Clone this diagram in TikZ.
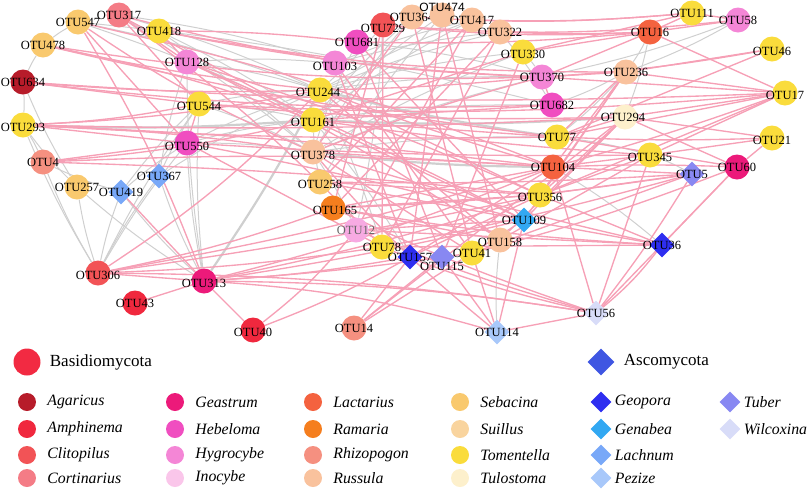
\documentclass[tikz,border=0pt]{standalone}
\usepackage{fontspec}
\setmainfont{Liberation Serif}
\newfontfamily\sanslab{Liberation Sans}
\usetikzlibrary{positioning, shapes.geometric}
\pgfdeclarelayer{bg}
\pgfsetlayers{bg,main}

% genus colours %
\definecolor{Agaricus}{HTML}{B71C2A}
\definecolor{Amphinema}{HTML}{F0283E}
\definecolor{Clitopilus}{HTML}{F25356}
\definecolor{Cortinarius}{HTML}{F47C86}
\definecolor{Geastrum}{HTML}{EC1A7A}
\definecolor{Hebeloma}{HTML}{F04EC0}
\definecolor{Hygrocybe}{HTML}{F486D6}
\definecolor{Inocybe}{HTML}{FAC6EA}
\definecolor{Lactarius}{HTML}{F4623F}
\definecolor{Ramaria}{HTML}{F57E1E}
\definecolor{Rhizopogon}{HTML}{F59080}
\definecolor{Russula}{HTML}{F9C29D}
\definecolor{Sebacina}{HTML}{F9C96E}
\definecolor{Suillus}{HTML}{F9D49E}
\definecolor{Tomentella}{HTML}{FADC3C}
\definecolor{Tulostoma}{HTML}{FDF0CC}
\definecolor{Geopora}{HTML}{2E2EF0}
\definecolor{Genabea}{HTML}{32A8F2}
\definecolor{Lachnum}{HTML}{78A8F8}
\definecolor{Pezize}{HTML}{A8C8FA}
\definecolor{Tuber}{HTML}{8888F2}
\definecolor{Wilcoxina}{HTML}{D8DCF8}
\definecolor{basidio}{HTML}{F22A42}
\definecolor{asco}{HTML}{3F56E2}
\definecolor{edgepink}{HTML}{F6A0B6}
\definecolor{edgegray}{HTML}{CFCFCF}

\tikzset{
	otu/.style={circle, minimum size=25pt, inner sep=0pt, draw=none},
	asc/.style={diamond, minimum size=25pt, inner sep=0pt, draw=none},
	lbl/.style={font=\fontsize{12.5}{12.5}\selectfont, inner sep=0pt},
	pk/.style={draw=edgepink, line width=1.35pt},
	gr/.style={draw=edgegray, line width=1pt},
	grt/.style={draw=edgegray, line width=2.2pt},
	leg/.style={circle, minimum size=18pt, inner sep=0pt},
	legd/.style={diamond, minimum size=21pt, inner sep=0pt},
	legtxt/.style={font=\itshape\fontsize{15.8}{16}\selectfont, inner sep=0pt, anchor=west},
}

\begin{document}
\begin{tikzpicture}[x=1pt, y=-1pt]
	\useasboundingbox (0,0) rectangle (809,491);

	% nodes - left part %
	\node[otu, fill=Sebacina, label={[lbl]center:OTU547}] (o547) at (78,22) {};
	\node[otu, fill=Cortinarius, label={[lbl]center:OTU317}] (o317) at (119,15) {};
	\node[otu, fill=Tomentella, label={[lbl]center:OTU418}] (o418) at (159,31) {};
	\node[otu, fill=Sebacina, label={[lbl]center:OTU478}] (o478) at (43,45) {};
	\node[otu, fill=Hygrocybe, label={[lbl]center:OTU128}] (o128) at (187,62) {};
	\node[otu, fill=Agaricus, label={[lbl]center:OTU634}] (o634) at (23,82) {};
	\node[otu, fill=Tomentella, label={[lbl, yshift=-2pt]center:OTU544}] (o544) at (199,104) {};
	\node[otu, fill=Tomentella, label={[lbl, yshift=-2pt]center:OTU293}] (o293) at (23,125) {};
	\node[otu, fill=Hebeloma, label={[lbl, yshift=-3pt]center:OTU550}] (o550) at (187,143) {};
	\node[otu, fill=Rhizopogon, label={[lbl]center:OTU4}] (o4) at (43,162) {};
	\node[otu, fill=Sebacina, label={[lbl]center:OTU257}] (o257) at (77,187) {};
	\node[asc, fill=Lachnum, label={[lbl]center:OTU419}] (o419) at (121,192) {};
	\node[asc, fill=Lachnum, label={[lbl]center:OTU367}] (o367) at (159,176) {};
	\node[otu, fill=Clitopilus, label={[lbl, yshift=-2pt]center:OTU306}] (o306) at (98,273) {};
	\node[otu, fill=Geastrum, label={[lbl, yshift=-2pt]center:OTU313}] (o313) at (204,281) {};
	\node[otu, fill=Amphinema, label={[lbl]center:OTU43}] (o43) at (135,303) {};
	\node[otu, fill=Amphinema, label={[lbl, yshift=-2pt]center:OTU40}] (o40) at (253,330) {};

	% nodes - top and middle %
	\node[otu, fill=Clitopilus, label={[lbl, yshift=-3pt]center:OTU729}] (o729) at (383,25) {};
	\node[otu, fill=Russula, label={[lbl]center:OTU364}] (o364) at (412,17) {};
	\node[otu, fill=Russula, label={[lbl, font=\sanslab\fontsize{12}{12}\selectfont, yshift=8pt]center:OTU474}] (o474) at (442,15) {};
	\node[otu, fill=Russula, label={[lbl]center:OTU417}] (o417) at (472,20) {};
	\node[otu, fill=Russula, label={[lbl]center:OTU322}] (o322) at (500,32) {};
	\node[otu, fill=Hebeloma, label={[lbl]center:OTU681}] (o681) at (357,42) {};
	\node[otu, fill=Tomentella, label={[lbl, yshift=-2pt]center:OTU330}] (o330) at (523,52) {};
	\node[otu, fill=Hygrocybe, label={[lbl, yshift=-3pt]center:OTU103}] (o103) at (335,63) {};
	\node[otu, fill=Tomentella, label={[lbl, yshift=-2pt, xshift=-2pt]center:OTU244}] (o244) at (320,90) {};
	\node[otu, fill=Tomentella, label={[lbl, yshift=-2pt]center:OTU161}] (o161) at (313,120) {};
	\node[otu, fill=Russula, label={[lbl, yshift=-3pt]center:OTU378}] (o378) at (313,152) {};
	\node[otu, fill=Sebacina, label={[lbl, yshift=-2pt]center:OTU258}] (o258) at (320,182) {};
	\node[otu, fill=Ramaria, label={[lbl, yshift=-2pt, xshift=2pt]center:OTU165}] (o165) at (333,208) {};
	\node[otu, fill=Hygrocybe!70!white, label={[lbl, text=black!60]center:OTU12}] (o12) at (356,230) {};
	\node[otu, fill=Tomentella, label={[lbl]center:OTU78}] (o78) at (382,247) {};
	\node[asc, fill=Geopora, label={[lbl]center:OTU157}] (o157) at (410,257) {};
	\node[asc, fill=Tuber, label={[lbl, yshift=-9pt]center:OTU115}] (o115) at (442,257) {};
	\node[otu, fill=Tomentella, label={[lbl]center:OTU41}] (o41) at (472,253) {};
	\node[otu, fill=Russula, label={[lbl, yshift=-2pt]center:OTU158}] (o158) at (500,240) {};
	\node[asc, fill=Genabea, label={[lbl]center:OTU109}] (o109) at (524,220) {};
	\node[otu, fill=Rhizopogon, label={[lbl]center:OTU14}] (o14) at (354,328) {};
	\node[asc, fill=Pezize, label={[lbl]center:OTU114}] (o114) at (497,332) {};

	% nodes - right part %
	\node[otu, fill=Hygrocybe, label={[lbl]center:OTU370}] (o370) at (542,77) {};
	\node[otu, fill=Russula, label={[lbl]center:OTU236}] (o236) at (626,72) {};
	\node[otu, fill=Hebeloma, label={[lbl]center:OTU682}] (o682) at (552,105) {};
	\node[otu, fill=Tulostoma, label={[lbl, xshift=-2pt]center:OTU294}] (o294) at (625,117) {};
	\node[otu, fill=Tomentella, label={[lbl]center:OTU77}] (o77) at (557,137) {};
	\node[otu, fill=Tomentella, label={[lbl, yshift=-2pt]center:OTU345}] (o345) at (650,155) {};
	\node[otu, fill=Lactarius, label={[lbl]center:OTU104}] (o104) at (553,167) {};
	\node[otu, fill=Tomentella, label={[lbl, yshift=-2pt]center:OTU356}] (o356) at (540,195) {};
	\node[otu, fill=Tomentella, label={[lbl]center:OTU111}] (o111) at (692,13) {};
	\node[otu, fill=Hygrocybe, label={[lbl]center:OTU58}] (o58) at (738,20) {};
	\node[otu, fill=Lactarius, label={[lbl]center:OTU16}] (o16) at (650,32) {};
	\node[otu, fill=Tomentella, label={[lbl, yshift=-2pt]center:OTU46}] (o46) at (772,49) {};
	\node[otu, fill=Tomentella, label={[lbl, yshift=-2pt]center:OTU17}] (o17) at (785,93) {};
	\node[otu, fill=Tomentella, label={[lbl, yshift=-2pt]center:OTU21}] (o21) at (772,138) {};
	\node[otu, fill=Geastrum, label={[lbl]center:OTU60}] (o60) at (737,167) {};
	\node[asc, fill=Tuber, label={[lbl]center:OTU5}] (o5) at (692,174) {};
	\node[asc, fill=Geopora, label={[lbl]center:OTU36}] (o36) at (662,245) {};
	\node[asc, fill=Wilcoxina, label={[lbl]center:OTU56}] (o56) at (596,313) {};

	% edges %
	\begin{pgfonlayer}{bg}
	\foreach \a/\b in {o306/o257, o306/o419, o306/o367, o306/o4, o306/o293, o306/o550, o306/o544,
		o313/o367, o313/o419, o313/o550, o313/o544, o313/o257, o313/o128,
		o257/o293, o257/o634, o419/o4, o419/o550, o419/o544, o367/o544, o367/o128, o367/o244,
		o634/o293, o634/o478, o293/o4, o478/o547,
		o547/o244, o547/o161, o547/o682, o317/o244, o317/o378, o317/o103,
		o418/o161, o418/o378, o128/o244, o128/o103,
		o544/o378, o544/o161, o544/o244, o550/o244, o550/o378, o550/o161,
		o244/o417, o244/o322, o244/o330, o244/o370,
		o161/o364, o161/o474, o161/o417, o161/o682,
		o378/o364, o378/o681, o378/o330, o378/o77, o378/o370,
		o258/o474, o258/o161, o103/o322, o103/o417, o681/o370, o729/o12, o729/o244,
		o322/o682, o330/o370, o16/o236, o16/o294, o58/o370, o58/o236, o236/o682, o236/o77,
		o104/o36, o345/o5, o77/o345, o114/o158, o378/o12, o244/o78, o161/o157}
		\draw[gr] (\a) to[bend left=4] (\b);
	\foreach \a/\b in {o244/o77, o161/o294, o378/o104, o313/o244, o293/o161}
		\draw[grt] (\a) to[bend right=3] (\b);
	\foreach \a/\b/\c in {o547/o313/5, o547/o550/0, o547/o378/-5, o547/o104/4,
		o317/o128/0, o317/o370/-6, o317/o78/5, o317/o161/0, o317/o544/0,
		o418/o128/0, o418/o236/-5, o418/o370/-4, o418/o681/3,
		o478/o244/-3, o478/o370/-5, o478/o161/4, o478/o77/-3,
		o634/o544/0, o634/o682/-4, o634/o244/-3, o634/o17/-3,
		o293/o544/-4, o293/o550/0, o293/o378/3, o293/o77/-2, o293/o104/2, o293/o244/-4, o293/o294/-2,
		o4/o550/0, o4/o161/-4, o4/o104/3, o4/o356/2,
		o550/o109/2, o550/o78/0, o550/o345/-2,
		o544/o550/0, o544/o17/-4, o544/o294/-3,
		o128/o356/3, o128/o158/5, o128/o109/2,
		o306/o313/0, o306/o78/-3, o306/o244/-6, o306/o165/-4, o306/o104/-3, o306/o356/-2, o306/o56/4,
		o313/o157/-3, o313/o41/-2, o313/o356/-3, o313/o114/6, o313/o56/4, o313/o43/0, o313/o40/0, o313/o109/-2, o313/o104/-4,
		o419/o313/0, o40/o12/-6, o40/o157/-4,
		o14/o157/0, o14/o115/0, o14/o41/0,
		o114/o115/0, o114/o41/0, o114/o109/0, o114/o56/0, o114/o378/5,
		o56/o36/-6, o56/o60/0, o56/o78/4, o56/o12/3, o56/o104/0, o56/o345/0, o56/o5/-3, o56/o165/3,
		o36/o60/0, o36/o356/0, o36/o109/0, o36/o165/3,
		o5/o356/0, o5/o104/0, o5/o165/3, o5/o41/0,
		o60/o21/0, o60/o77/0, o60/o104/-2, o60/o294/0,
		o21/o294/0, o21/o345/0, o21/o77/2,
		o17/o16/0, o17/o370/0, o17/o77/0, o17/o294/0, o17/o104/2, o17/o356/0, o17/o236/0, o17/o345/0,
		o46/o236/0, o46/o370/3, o46/o77/0,
		o111/o16/0, o111/o58/0, o111/o364/4, o111/o330/0, o111/o417/3,
		o58/o16/0, o58/o729/5,
		o16/o729/4, o16/o681/3, o16/o330/0, o16/o322/2, o16/o370/0,
		o236/o370/0, o236/o77/0, o236/o104/0, o236/o356/0, o236/o109/0,
		o294/o77/0, o294/o356/0, o294/o109/0, o294/o158/0, o294/o14/0,
		o345/o356/0, o345/o104/0,
		o370/o244/2, o370/o682/0, o370/o378/-3,
		o729/o165/0, o729/o78/0, o364/o41/0, o364/o378/0,
		o474/o157/0, o474/o158/0, o417/o258/0, o417/o12/0,
		o322/o165/0, o322/o78/0, o330/o161/0, o330/o115/0,
		o681/o109/0, o681/o115/0, o103/o157/0, o103/o41/0,
		o244/o104/-2, o244/o356/0, o244/o158/0,
		o161/o77/0, o161/o345/-2, o161/o109/0,
		o378/o41/0, o378/o104/0, o378/o36/-2,
		o258/o109/0, o258/o356/0, o258/o5/-2,
		o165/o356/0, o165/o104/0, o165/o158/0,
		o12/o109/0, o12/o36/0, o78/o5/-2, o78/o36/0,
		o157/o356/0, o157/o104/0, o41/o109/0, o41/o60/-3,
		o158/o345/0, o682/o161/0}
		\draw[pk] (\a) to[bend left=\c] (\b);
	\end{pgfonlayer}

	% legend %
	\node[circle, minimum size=27pt, inner sep=0pt, fill=basidio] (lgbasidio) at (27,362) {};
	\node[right=9pt of lgbasidio, inner sep=0pt, font=\fontsize{17}{17}\selectfont] (txbasidio) {Basidiomycota};
	\node[diamond, minimum size=27pt, inner sep=0pt, fill=asco] (lgasco) at (601,362) {};
	\node[right=9pt of lgasco, inner sep=0pt, font=\fontsize{17}{17}\selectfont] (txasco) {Ascomycota};

	\foreach \g/\x/\y in {Agaricus/27/402, Amphinema/27/429, Clitopilus/27/455, Cortinarius/27/478,
		Geastrum/175/402, Hebeloma/175/429, Hygrocybe/175/455, Inocybe/175/478,
		Lactarius/313/402, Ramaria/313/429, Rhizopogon/313/455, Russula/313/478,
		Sebacina/460/402, Suillus/460/429, Tomentella/460/455, Tulostoma/460/478}
	{
		\node[leg, fill=\g] (lg\g) at (\x,\y) {};
		\node[legtxt, right=11pt of lg\g] (tx\g) {\g};
	}
	\foreach \g/\x/\y in {Geopora/601/402, Genabea/601/429, Lachnum/601/455, Pezize/601/478,
		Tuber/730/402, Wilcoxina/730/429}
	{
		\node[legd, fill=\g] (lg\g) at (\x,\y) {};
		\node[legtxt, right=3pt of lg\g] (tx\g) {\g};
	}

\end{tikzpicture}
\end{document}
